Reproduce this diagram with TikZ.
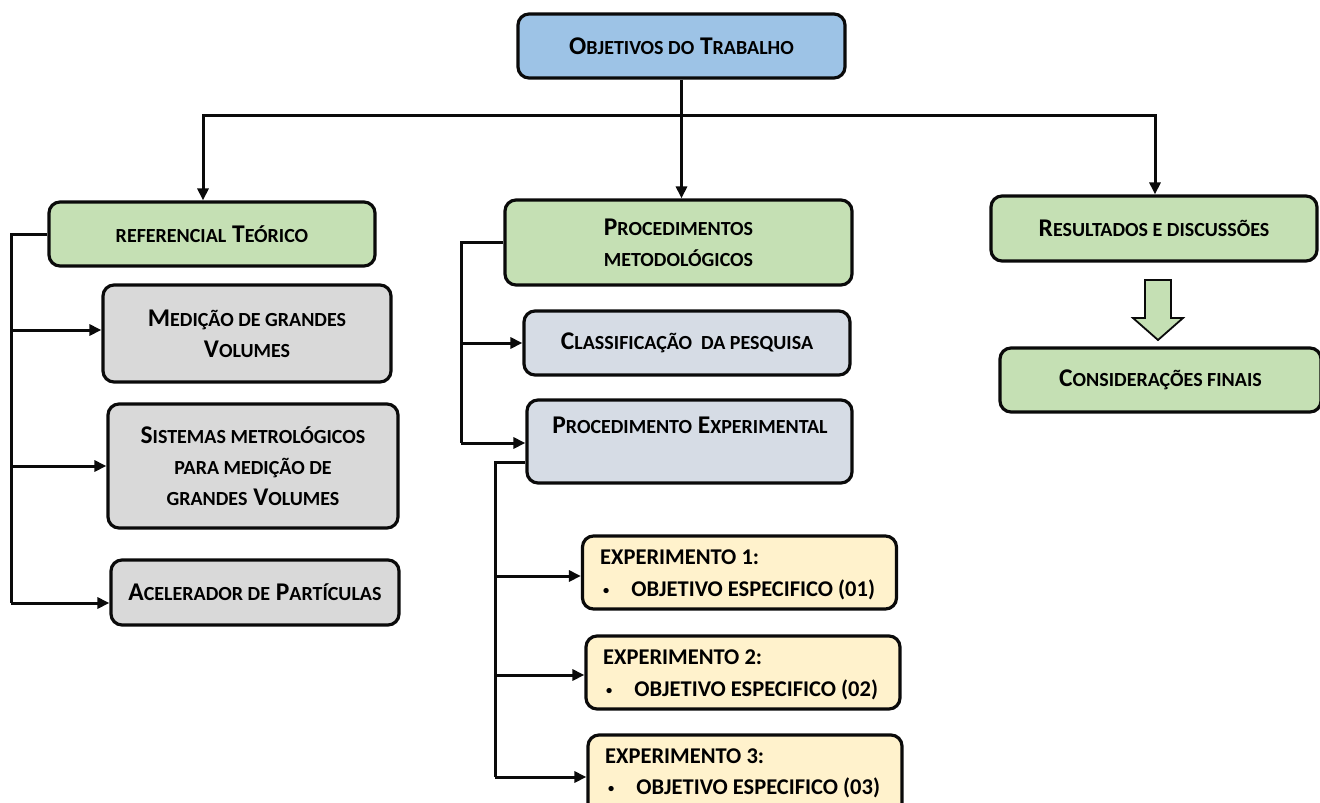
\documentclass[tikz,border=0pt]{standalone}
\usepackage{fontspec}
\setmainfont{Carlito}
\usetikzlibrary{arrows.meta}
\definecolor{cblue}{HTML}{9DC3E6}
\definecolor{cgreen}{HTML}{C5E0B4}
\definecolor{cgray}{HTML}{D9D9D9}
\definecolor{cbgray}{HTML}{D6DCE5}
\definecolor{cyel}{HTML}{FFF2CC}
\definecolor{cline}{HTML}{0A0A0A}
\newcommand\lc[1]{{\fontsize{20}{31}\selectfont #1}}
\newcommand\bul{\raisebox{0.22ex}{\scalebox{0.55}{•}}}
\begin{document}
\begin{tikzpicture}[x=1pt,y=-1pt,
  box/.style={draw=cline, line width=3.2pt, rounded corners=11pt, inner sep=0pt, align=center,
    font=\bfseries\fontsize{25.5}{31}\selectfont},
  expbox/.style={draw=cline, line width=3.2pt, rounded corners=11pt, inner sep=0pt,
    minimum width=314pt, minimum height=73pt},
  txt/.style={inner sep=0pt, align=left, font=\bfseries\fontsize{22.5}{33}\selectfont},
  conn/.style={draw=cline, line width=3pt},
  arr/.style={conn, -{Triangle[length=12pt,width=11pt]}}]
\useasboundingbox (0,0) rectangle (1320,803);
% boxes
\node[box, fill=cblue, minimum width=327pt, minimum height=64pt] (top) at (681.5,46) {O\lc{BJETIVOS DO} T\lc{RABALHO}};
\node[box, fill=cgreen, minimum width=326pt, minimum height=64pt] (ref) at (212,234) {\lc{REFERENCIAL} T\lc{EÓRICO}};
\node[box, fill=cgray, minimum width=288pt, minimum height=97pt] (med) at (247,333.5) {M\lc{EDIÇÃO DE GRANDES}\\V\lc{OLUMES}};
\node[box, fill=cgray, minimum width=290pt, minimum height=124pt] (sis) at (253,466) {S\lc{ISTEMAS METROLÓGICOS}\\\lc{PARA MEDIÇÃO DE}\\\lc{GRANDES} V\lc{OLUMES}};
\node[box, fill=cgray, minimum width=288pt, minimum height=65pt] (acel) at (255,592.5) {A\lc{CELERADOR DE} P\lc{ARTÍCULAS}};
\node[box, fill=cgreen, minimum width=347pt, minimum height=85pt] (proc) at (678.5,242.5) {P\lc{ROCEDIMENTOS}\\\lc{METODOLÓGICOS}};
\node[box, fill=cbgray, minimum width=326pt, minimum height=64pt] (cla) at (687,343) {C\lc{LASSIFICAÇÃO\ \ DA PESQUISA}};
\node[box, fill=cbgray, minimum width=325pt, minimum height=83pt] (pexp) at (689.5,441.5) {};
\node[inner sep=0pt, font=\bfseries\fontsize{25.5}{31}\selectfont] (pexpt) at (690,425) {P\lc{ROCEDIMENTO} E\lc{XPERIMENTAL}};
\node[box, fill=cgreen, minimum width=326pt, minimum height=65pt] (res) at (1154,228.5) {R\lc{ESULTADOS E DISCUSSÕES}};
\node[box, fill=cgreen, minimum width=321pt, minimum height=64pt] (con) at (1160.5,380) {C\lc{ONSIDERAÇÕES FINAIS}};
\node[expbox, fill=cyel] (e1) at (739.5,572.5) {};
\node[expbox, fill=cyel] (e2) at (743,672.5) {};
\node[expbox, fill=cyel, minimum height=80pt] (e3) at (745,775) {};
\node[txt, anchor=west] (e1a) at (600,557) {EXPERIMENTO 1:};
\node[txt, anchor=west] (e1b) at (603,590) {\bul\hspace{22pt}OBJETIVO ESPECIFICO (01)};
\node[txt, anchor=west] (e2a) at (603,657) {EXPERIMENTO 2:};
\node[txt, anchor=west] (e2b) at (606,690) {\bul\hspace{22pt}OBJETIVO ESPECIFICO (02)};
\node[txt, anchor=west] (e3a) at (605,756) {EXPERIMENTO 3:};
\node[txt, anchor=west] (e3b) at (608,788) {\bul\hspace{22pt}OBJETIVO ESPECIFICO (03)};
% top connectors
\coordinate (barL) at (203,115);
\coordinate (barR) at (1155,115);
\draw[conn] (top.south) -- (top.south |- barL);
\draw[conn, line cap=rect] (barL) -- (barR);
\draw[arr] (barL) -- (barL |- ref.north);
\draw[arr] (top.south |- barL) -- (top.south |- proc.north);
\draw[arr] (barR) -- (barR |- res.north);
% left trunk
\coordinate (lt) at (11,603);
\draw[conn] (ref.west) -| (lt);
\draw[arr] (lt |- 0,330) -- ([yshift=3.5pt]med.west);
\draw[arr] (lt |- sis.west) -- (sis.west);
\draw[arr] (lt) -- ([yshift=-10.5pt]acel.west);
% middle trunk
\coordinate (mt) at (461,443);
\draw[conn] (proc.west) -| (mt);
\draw[arr] (mt |- cla.west) -- (cla.west);
\draw[arr] (mt) -- (pexp.west |- mt);
% experiment trunk
\coordinate (xt) at (495,777);
\draw[conn] ([yshift=-20.5pt]pexp.west) -| (xt);
\draw[arr] (xt |- 0,576) -- (e1.west |- 0,576);
\draw[arr] (xt |- 0,675) -- (e2.west |- 0,675);
\draw[arr] (xt) -- (e3.west |- xt);
% block arrow
\draw[fill=cgreen, draw=cline, line width=1.8pt] (1145,280) -- (1171,280) -- (1171,318) -- (1183,318) -- (1158,340) -- (1133,318) -- (1145,318) -- cycle;
\end{tikzpicture}
\end{document}
